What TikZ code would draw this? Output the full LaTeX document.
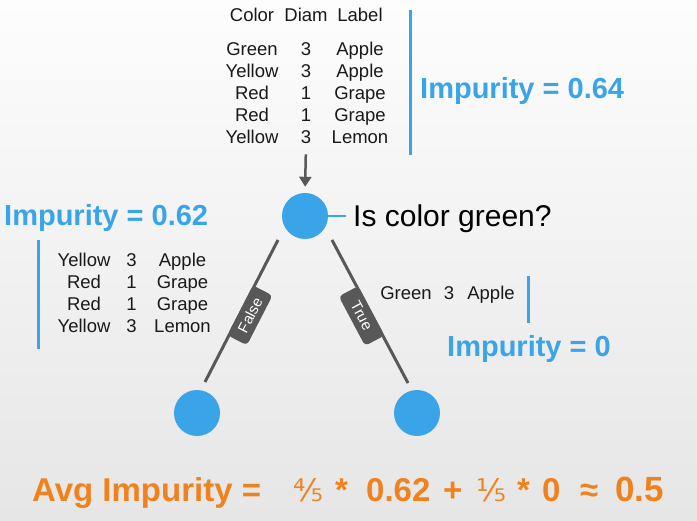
\documentclass[tikz,border=0pt]{standalone}
\usepackage{fontspec}
\setmainfont{Liberation Sans}
\newfontfamily\fracfont{DejaVu Sans}
\usetikzlibrary{arrows.meta,positioning,calc}
\definecolor{ddblue}{RGB}{58,164,232}
\definecolor{ddorange}{RGB}{240,130,30}
\definecolor{ddgrey}{RGB}{88,88,88}
\definecolor{ddtext}{RGB}{25,25,25}
\tikzset{
  cell/.style={anchor=base, inner sep=0pt, font=\fontsize{18.5}{20}\selectfont, text=ddtext},
  impurity/.style={anchor=base west, inner sep=0pt, font=\fontsize{29}{31}\selectfont\bfseries, text=ddblue},
  avgtext/.style={anchor=base west, inner sep=0pt, font=\fontsize{33}{35}\selectfont\bfseries, text=ddorange},
  fifths/.style={avgtext, font=\fontsize{31}{33}\selectfont\fracfont},
  split/.style={circle, fill=ddblue, minimum size=46pt, inner sep=0pt},
  edge/.style={draw=ddgrey, line width=3pt},
  branch/.style={fill=ddgrey, text=white, rounded corners=4pt, minimum width=56pt, minimum height=22pt, inner sep=0pt, font=\fontsize{15}{15}\selectfont, sloped, below=-3pt},
  bar/.style={draw=ddblue, line width=3pt},
}

\begin{document}
\begin{tikzpicture}[x=1pt, y=-1pt]
  \useasboundingbox (0,0) rectangle (697,521);
  \shade[top color=white!60!ddgrey!3, bottom color=ddgrey!15] (0,0) rectangle (697,521);

  % root data set
  \node[cell] (hc) at (252,22) {Color};
  \node[cell] (hd) at (306,22) {Diam};
  \node[cell] (hl) at (360,22) {Label};
  \foreach \c/\d/\l [count=\i] in {Green/3/Apple, Yellow/3/Apple, Red/1/Grape, Red/1/Grape, Yellow/3/Lemon} {
    \node[cell] (tc\i) at (252,34+22*\i) {\c};
    \node[cell] (td\i) at (306,34+22*\i) {\d};
    \node[cell] (tl\i) at (360,34+22*\i) {\l};
  }
  \draw[bar] (410,10) -- (410,155);
  \node[impurity] (imp64) at (420,99) {Impurity = 0.64};

  % tree
  \node[split] (root) at (305,216) {};
  \node[split] (lc) at (197,413) {};
  \node[split] (rc) at (417,413) {};
  \draw[ddgrey, line width=2.5pt, -{Triangle[length=10pt,width=12pt]}, shorten <=10pt, shorten >=6pt] (td5.south) -- (root.north);
  \node[anchor=base west, inner sep=0pt, font=\fontsize{30}{32}\selectfont, text=black] (q) at (353,227) {Is color green?};
  \draw[bar, line width=2.5pt, shorten >=7pt] (root.east) -- (root.east -| q.west);

  \draw[edge] ([shift={(-27,24)}]root.center) -- ([shift={(8,-31)}]lc.center) node[branch, pos=0.5] {False};
  \draw[edge] ([shift={(27,24)}]root.center) -- ([shift={(-9,-30)}]rc.center) node[branch, pos=0.5] {True};

  % false branch
  \node[impurity] (imp62) at (4,226) {Impurity = 0.62};
  \draw[bar] (38,240) -- (38,349);
  \foreach \c/\d/\l [count=\i] in {Yellow/3/Apple, Red/1/Grape, Red/1/Grape, Yellow/3/Lemon} {
    \node[cell] (fc\i) at (84,245+22*\i) {\c};
    \node[cell] (fd\i) at (131.5,245+22*\i) {\d};
    \node[cell] (fl\i) at (182.5,245+22*\i) {\l};
  }

  % true branch
  \node[cell] (gc1) at (406,300) {Green};
  \node[cell] (gd1) at (449,300) {3};
  \node[cell] (gl1) at (491,300) {Apple};
  \draw[bar] (528,276) -- (528,323);
  \node[impurity] (imp0) at (447,357) {Impurity = 0};

  % weighted average
  \node[avgtext] (avg) at (32,502) {Avg Impurity =};
  \node[fifths] (f45) at (293,502) {⅘};
  \node[avgtext] (ast1) at (335,502) {*};
  \node[avgtext] (n062) at (366,502) {0.62};
  \node[avgtext] (plus) at (443,502) {+};
  \node[fifths] (f15) at (476,502) {⅕};
  \node[avgtext] (ast2) at (517,502) {*};
  \node[avgtext] (n0) at (542,502) {0};
  \node[avgtext] (approx) at (580,502) {≈};
  \node[avgtext, font=\fontsize{35}{37}\selectfont\bfseries] (n05) at (615,502) {0.5};
\end{tikzpicture}
\end{document}
